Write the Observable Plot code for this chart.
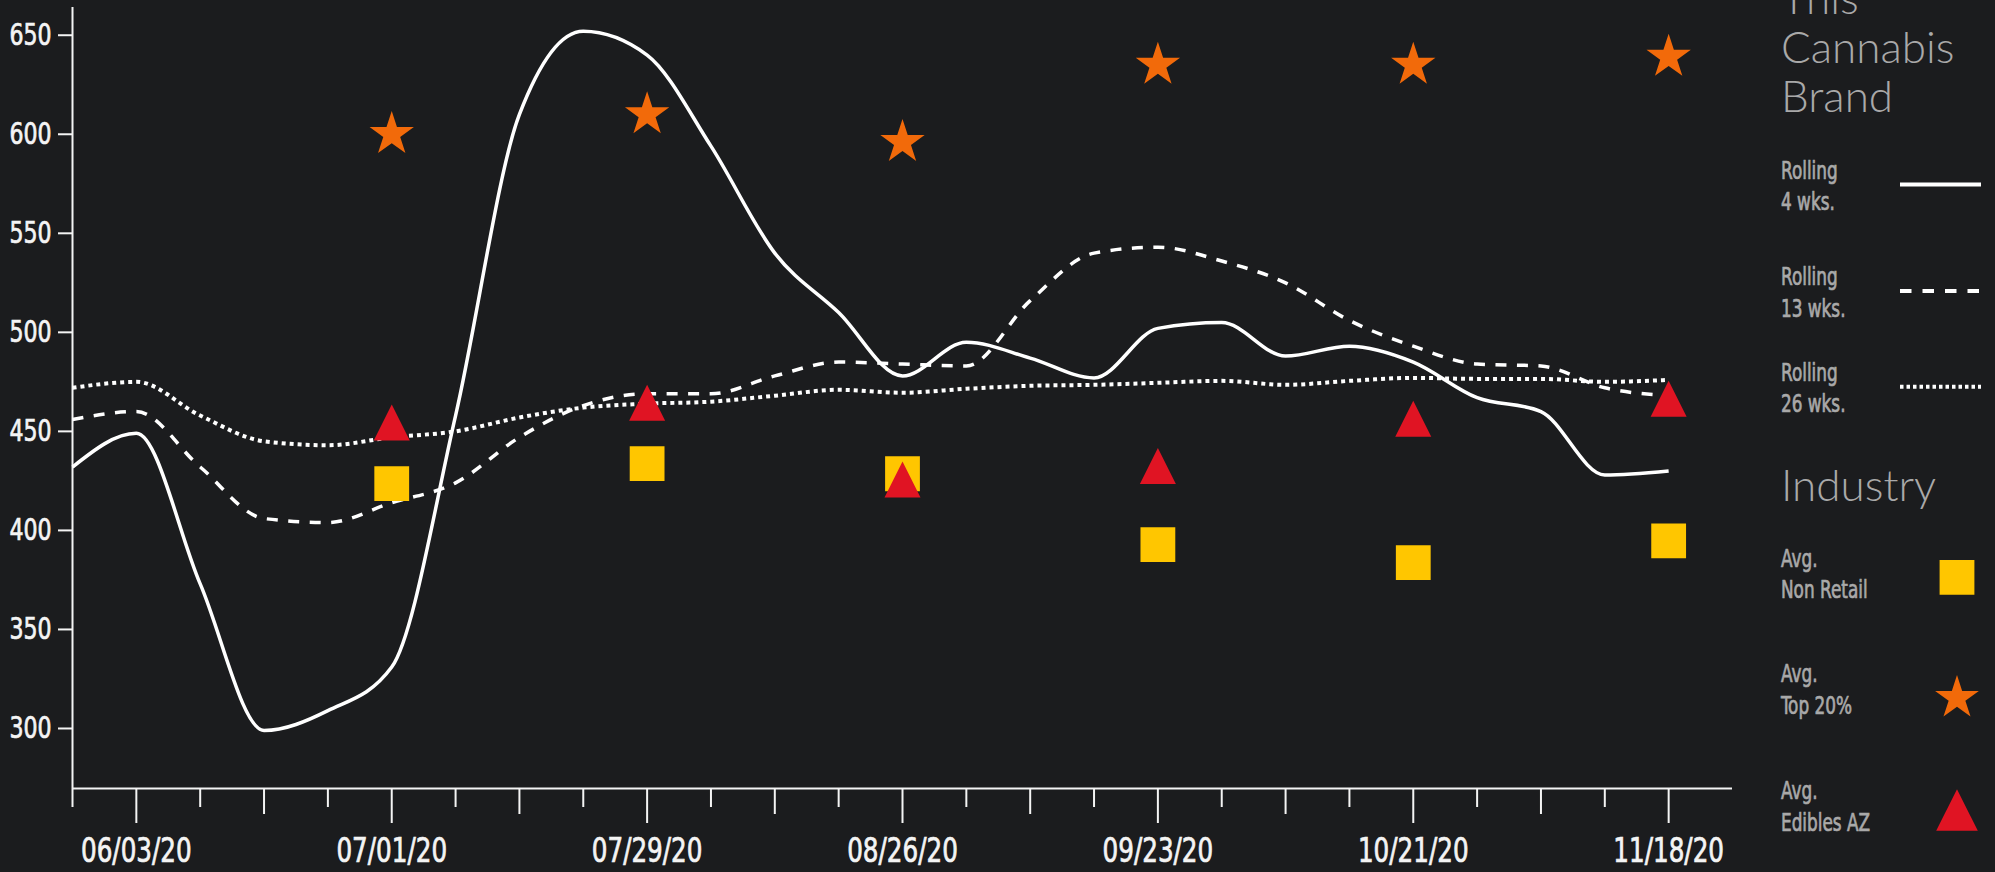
<!DOCTYPE html>
<html><head><meta charset="utf-8">
<script src="https://cdn.jsdelivr.net/npm/d3@7"></script>
<script src="https://cdn.jsdelivr.net/npm/@observablehq/plot@0.6"></script>
<style>
html,body{margin:0;padding:0;background:#1b1c1e;overflow:hidden}
#wrap{position:relative;width:1995px;height:872px}
#legend{position:absolute;left:0;top:0;pointer-events:none}
</style></head><body><div id="wrap"></div>
<script>
// ---- data ----
const weeks = ["2020-05-27","2020-06-03","2020-06-10","2020-06-17","2020-06-24","2020-07-01","2020-07-08","2020-07-15","2020-07-22","2020-07-29","2020-08-05","2020-08-12","2020-08-19","2020-08-26","2020-09-02","2020-09-09","2020-09-16","2020-09-23","2020-09-30","2020-10-07","2020-10-14","2020-10-21","2020-10-28","2020-11-04","2020-11-11","2020-11-18"];
const rolling4 = [432,449,373,299,309,331,458,610,652,640,594,540,510,478,495,487,477,502,505,488,493,485,467,460,428,430];
const rolling13 = [456,460,432,406,404,414,424,447,463,469,469,478,485,484,483,516,540,543,536,525,506,493,484,483,472,468];
const rolling26 = [472,475,458,445,443,447,450,457,462,464,465,468,471,469.5,471.5,473,473.5,474.5,475.5,473.5,475.5,477,476.5,476.5,475,476];

const markerDates = ["2020-07-01","2020-07-29","2020-08-26","2020-09-23","2020-10-21","2020-11-18"];
const avgNonRetail = [423.6,433.7,428.6,392.8,383.7,394.7];
const avgTop20 = [600,610,596,635,635,639];
const avgEdiblesAZ = [454.5,464.5,425.7,432.5,456.4,466.5];

const yTicks = [300,350,400,450,500,550,600,650];
const majorTicks = ["2020-06-03","2020-07-01","2020-07-29","2020-08-26","2020-09-23","2020-10-21","2020-11-18"];
const mediumTicks = ["2020-06-17","2020-07-15","2020-08-12","2020-09-09","2020-10-07","2020-11-04"];
const minorTicks = ["2020-05-27","2020-06-10","2020-06-24","2020-07-08","2020-07-22","2020-08-05","2020-08-19","2020-09-02","2020-09-16","2020-09-30","2020-10-14","2020-10-28","2020-11-11"];
const xDomain = ["2020-05-27","2020-11-25"];
const yDomain = [269.7,664];

const brandTitle = ["This","Cannabis","Brand"];
const brandLabels = [["Rolling","4 wks."],["Rolling","13 wks."],["Rolling","26 wks."]];
const industryTitle = "Industry";
const industryLabels = [["Avg.","Non Retail"],["Avg.","Top 20%"],["Avg.","Edibles AZ"]];

// ---- styles ----
const COL_SQ = "#FFC600", COL_STAR = "#F26A0A", COL_TRI = "#E01423";
const LINE_DASH = [null, "11,10.5", "4,4"];
const LINE_W = [3.5, 3.5, 4];
const NARROW = "'Liberation Sans Narrow','DejaVu Sans Condensed','Roboto',sans-serif";
const LIGHT = "Lato,'Open Sans',sans-serif";

const P = s => new Date(s + "T00:00:00Z");

// custom symbols (r = sqrt(size/pi))
const sqSym = {draw(ctx, size){const r=Math.sqrt(size/Math.PI); ctx.moveTo(-r,-r); ctx.lineTo(r,-r); ctx.lineTo(r,r); ctx.lineTo(-r,r); ctx.closePath();}};
const starSym = {draw(ctx, size){const R=Math.sqrt(size/Math.PI), ri=R*0.382; for(let i=0;i<10;i++){const a=Math.PI*i/5-Math.PI/2, rr=i%2?ri:R; const x=rr*Math.cos(a), y=rr*Math.sin(a); if(i) ctx.lineTo(x,y); else ctx.moveTo(x,y);} ctx.closePath();}};
const triSym = {draw(ctx, size){const r=Math.sqrt(size/Math.PI); ctx.moveTo(0,-r); ctx.lineTo(r,r); ctx.lineTo(-r,r); ctx.closePath();}};

const series = [rolling4, rolling13, rolling26].map(vals => weeks.map((w,i)=>({date:P(w), v:vals[i]})));
const mk = vals => markerDates.map((d,i)=>({date:P(d), v:vals[i]}));

const fmt = d3.utcFormat("%m/%d/%y");

const chart = Plot.plot({
  width: 1995, height: 872,
  marginLeft: 72, marginRight: 263, marginTop: 7, marginBottom: 84,
  style: {background: "#1b1c1e", color: "#f4f4f4", fontFamily: NARROW},
  x: {type: "utc", domain: xDomain.map(P)},
  y: {domain: yDomain},
  marks: [
    Plot.ruleY([yDomain[0]], {stroke: "#f4f4f4", strokeWidth: 2}),
    Plot.ruleX([P(xDomain[0])], {stroke: "#f4f4f4", strokeWidth: 2}),
    Plot.axisY(yTicks, {tickSize: 14, tickPadding: 7, fontSize: 31, strokeWidth: 2, label: null}),
    Plot.axisX(majorTicks.map(P), {tickSize: 35, tickPadding: 15, fontSize: 33, strokeWidth: 2, tickFormat: fmt, label: null}),
    Plot.axisX(mediumTicks.map(P), {tickSize: 26, strokeWidth: 2, tickFormat: () => "", label: null}),
    Plot.axisX(minorTicks.map(P), {tickSize: 19, strokeWidth: 2, tickFormat: () => "", label: null}),
    ...series.map((s,k) => Plot.line(s, {x:"date", y:"v", curve:"monotone-x", stroke:"#ffffff", strokeWidth: LINE_W[k], strokeDasharray: LINE_DASH[k], strokeLinecap: "butt"})),
    Plot.dot(mk(avgNonRetail), {x:"date", y:"v", symbol: sqSym, r: 17.4, fill: COL_SQ}),
    Plot.dot(mk(avgTop20), {x:"date", y:"v", symbol: starSym, r: 23.3, fill: COL_STAR}),
    Plot.dot(mk(avgEdiblesAZ), {x:"date", y:"v", symbol: triSym, r: 18, fill: COL_TRI})
  ]
});
document.getElementById("wrap").appendChild(chart);

// condense text horizontally to mimic the narrow, medium-weight face of the reference
function squeeze(nodes, k){
  nodes.forEach(t => {
    const L = t.getComputedTextLength();
    if (L > 0) { t.setAttribute("textLength", (L*k).toFixed(1)); t.setAttribute("lengthAdjust", "spacingAndGlyphs"); }
    t.setAttribute("stroke", t.getAttribute("fill") || "currentColor");
    t.setAttribute("stroke-width", "0.7");
  });
}
const labelNodes = Array.from(chart.querySelectorAll("text"));
const xLabelSet = new Set(majorTicks.map(d => fmt(P(d))));
squeeze(labelNodes.filter(t => xLabelSet.has(t.textContent)), 0.83);
squeeze(labelNodes.filter(t => !xLabelSet.has(t.textContent)), 0.79);

// ---- legend (right side) ----
const LX = 1781, TXT = "#a9a9a9";
const svg = d3.select("#wrap").append("svg").attr("id","legend").attr("width",1995).attr("height",872);
const titleBase = [14, 63, 112];
brandTitle.forEach((t,i)=> svg.append("text").attr("x",LX).attr("y",titleBase[i]).attr("fill",TXT)
  .style("font-family",LIGHT).style("font-weight",300).style("font-size","44px").text(t));
const brandBase = [178.5, 285, 380.7];
const swX1 = 1900, swX2 = 1981;
brandLabels.forEach((lab,i)=>{
  lab.forEach((t,j)=> svg.append("text").attr("class","narrow").attr("x",LX).attr("y",brandBase[i]+j*31.5).attr("fill",TXT)
    .style("font-family",NARROW).style("font-size","25px").text(t));
  svg.append("line").attr("x1",swX1).attr("x2",swX2).attr("y1",brandBase[i]+6).attr("y2",brandBase[i]+6)
    .attr("stroke","#fff").attr("stroke-width",4).attr("stroke-dasharray", i===0?null:(i===1?"11.5,11":"3.5,3"));
});
svg.append("text").attr("x",LX).attr("y",501).attr("fill",TXT)
  .style("font-family",LIGHT).style("font-weight",300).style("font-size","44px").text(industryTitle);
const indBase = [566.7, 682.3, 799.3];
const indSym = [[sqSym,17.4,COL_SQ,577.3],[starSym,23,COL_STAR,698],[triSym,20.8,COL_TRI,810]];
industryLabels.forEach((lab,i)=>{
  lab.forEach((t,j)=> svg.append("text").attr("class","narrow").attr("x",LX).attr("y",indBase[i]+j*31.5).attr("fill",TXT)
    .style("font-family",NARROW).style("font-size","25px").text(t));
  const [sym,r,col,cy] = indSym[i];
  svg.append("path").attr("transform",`translate(1957,${cy})`).attr("fill",col)
    .attr("d", d3.symbol().type(sym).size(Math.PI*r*r)());
});
squeeze(svg.node().querySelectorAll("text.narrow"), 0.75);
</script>
</body></html>
